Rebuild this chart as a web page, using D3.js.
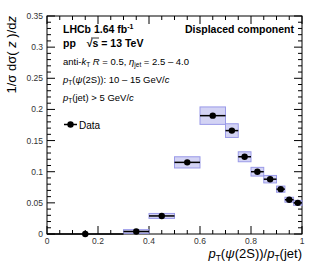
<!DOCTYPE html>
<html>
<head>
<meta charset="utf-8">
<script src="https://cdn.jsdelivr.net/npm/d3@7"></script>
<style>
  body { margin: 0; background: #fff; }
  text { font-family: "Liberation Sans", Arial, sans-serif; }
</style>
</head>
<body>
<div class="chart"></div>
<script>
// bins of pT(psi(2S))/pT(jet)
const binLo  = [0.0, 0.3, 0.4, 0.5, 0.6, 0.7,   0.75,  0.8,   0.85,  0.9,   0.933, 0.967];
const binHi  = [0.3, 0.4, 0.5, 0.6, 0.7, 0.75,  0.8,   0.85,  0.9,   0.933, 0.967, 1.0];
const values = [0.0, 0.004, 0.029, 0.115, 0.190, 0.166, 0.124, 0.100, 0.088, 0.072, 0.055, 0.050];
const sysErr = [0.0, 0.003, 0.004, 0.009, 0.014, 0.011, 0.008, 0.007, 0.006, 0.005, 0.004, 0.004];

const xMajor = [0, 0.2, 0.4, 0.6, 0.8, 1];
const yMajor = [0, 0.05, 0.1, 0.15, 0.2, 0.25, 0.3, 0.35];
const yLabels = ["0", "0.05", "0.1", "0.15", "0.2", "0.25", "0.3", "0.35"];

const W = 315, H = 276;
const margin = {top: 16, left: 47, right: 13, bottom: 42};

const svg = d3.select('.chart').append('svg')
    .attr("width", W)
    .attr("height", H);

const x = d3.scaleLinear().domain([0, 1]).range([margin.left, W - margin.right]);
const y = d3.scaleLinear().domain([0, 0.35]).range([H - margin.bottom, margin.top]);

const x0 = x(0), x1 = x(1), y0 = y(0), y1 = y(0.35);

// frame
svg.append("rect")
    .attr("x", x0).attr("y", y1)
    .attr("width", x1 - x0).attr("height", y0 - y1)
    .attr("fill", "none")
    .attr("stroke", "#000")
    .attr("stroke-width", 1);

// ticks (ROOT style, inward, mirrored)
const xMinor = d3.range(0, 1.0001, 0.05);
const yMinor = d3.range(0, 0.3501, 0.01);
const isMajor = (v, arr) => arr.some(m => Math.abs(m - v) < 1e-6);

const tickG = svg.append("g").attr("stroke", "#000").attr("stroke-width", 1);
xMinor.forEach(v => {
    const len = isMajor(v, xMajor) ? 8 : 4;
    tickG.append("line").attr("x1", x(v)).attr("x2", x(v)).attr("y1", y0).attr("y2", y0 - len);
    tickG.append("line").attr("x1", x(v)).attr("x2", x(v)).attr("y1", y1).attr("y2", y1 + len);
});
yMinor.forEach(v => {
    const len = isMajor(v, yMajor) ? 8 : 4;
    tickG.append("line").attr("x1", x0).attr("x2", x0 + len).attr("y1", y(v)).attr("y2", y(v));
    tickG.append("line").attr("x1", x1).attr("x2", x1 - len).attr("y1", y(v)).attr("y2", y(v));
});

// tick labels
svg.append("g").selectAll("text")
    .data(xMajor)
    .enter().append("text")
    .attr("x", d => x(d))
    .attr("y", y0 + 10)
    .attr("text-anchor", "middle")
    .attr("font-size", 8.5)
    .attr("fill", "#333")
    .text(d => d === 0 ? "0" : d === 1 ? "1" : d3.format(".1f")(d));

svg.append("g").selectAll("text")
    .data(yMajor)
    .enter().append("text")
    .attr("x", x0 - 4)
    .attr("y", d => y(d) + 3)
    .attr("text-anchor", "end")
    .attr("font-size", 8.5)
    .attr("fill", "#333")
    .text((d, i) => yLabels[i]);

// systematic boxes
const pts = values.map((v, i) => ({lo: binLo[i], hi: binHi[i], v: v, s: sysErr[i]}));

svg.append("g").selectAll("rect")
    .data(pts.filter(d => d.s > 0))
    .enter().append("rect")
    .attr("x", d => x(d.lo))
    .attr("width", d => x(d.hi) - x(d.lo))
    .attr("y", d => y(d.v + d.s))
    .attr("height", d => y(d.v - d.s) - y(d.v + d.s))
    .attr("fill", "rgba(110,110,220,0.3)")
    .attr("stroke", "#9a9ae8")
    .attr("stroke-width", 1);

// horizontal bars
svg.append("g").selectAll("line")
    .data(pts)
    .enter().append("line")
    .attr("x1", d => x(d.lo))
    .attr("x2", d => x(d.hi))
    .attr("y1", d => y(d.v))
    .attr("y2", d => y(d.v))
    .attr("stroke", "#000")
    .attr("stroke-width", 1.5);

// markers
svg.append("g").selectAll("circle")
    .data(pts)
    .enter().append("circle")
    .attr("cx", d => x((d.lo + d.hi) / 2))
    .attr("cy", d => y(d.v))
    .attr("r", 3.2)
    .attr("fill", "#000");

// annotations
const tx = 63;
svg.append("text").attr("x", tx).attr("y", 33)
    .attr("font-size", 10.5).attr("font-weight", "bold")
    .html('LHCb 1.64 fb<tspan dy="-4" font-size="7">-1</tspan>');

svg.append("text").attr("x", tx).attr("y", 47)
    .attr("font-size", 10.5).attr("font-weight", "bold")
    .html('pp <tspan dx="8">\u221As</tspan> = 13 TeV');
svg.append("line").attr("x1", 91).attr("x2", 99).attr("y1", 38).attr("y2", 38)
    .attr("stroke", "#000").attr("stroke-width", 0.8);

svg.append("text").attr("x", 294).attr("y", 33)
    .attr("font-size", 10.5).attr("font-weight", "bold")
    .attr("text-anchor", "end")
    .text("Displaced component");

svg.append("text").attr("x", tx).attr("y", 65)
    .attr("font-size", 9.5)
    .html('anti-<tspan font-style="italic">k</tspan><tspan dy="2" font-size="6.5">T</tspan>' +
          '<tspan dy="-2"> </tspan><tspan font-style="italic">R</tspan> = 0.5, ' +
          '<tspan font-style="italic">\u03B7</tspan><tspan dy="2" font-size="6.5">jet</tspan>' +
          '<tspan dy="-2"> = 2.5 \u2013 4.0</tspan>');

svg.append("text").attr("x", tx).attr("y", 83)
    .attr("font-size", 9.5)
    .html('<tspan font-style="italic">p</tspan><tspan dy="2" font-size="6.5">T</tspan>' +
          '<tspan dy="-2">(</tspan><tspan font-style="italic">\u03C8</tspan>(2S)): 10 \u2013 15 GeV/<tspan font-style="italic">c</tspan>');

svg.append("text").attr("x", tx).attr("y", 101)
    .attr("font-size", 9.5)
    .html('<tspan font-style="italic">p</tspan><tspan dy="2" font-size="6.5">T</tspan>' +
          '<tspan dy="-2">(jet) &gt; 5 GeV/</tspan><tspan font-style="italic">c</tspan>');

// legend
svg.append("line").attr("x1", 64).attr("x2", 77).attr("y1", 124.5).attr("y2", 124.5)
    .attr("stroke", "#000").attr("stroke-width", 1.5);
svg.append("circle").attr("cx", 70.5).attr("cy", 124.5).attr("r", 3.2).attr("fill", "#000");
svg.append("text").attr("x", 79).attr("y", 128.5)
    .attr("font-size", 10).text("Data");

// axis titles
svg.append("text")
    .attr("x", x1).attr("y", 258)
    .attr("text-anchor", "end")
    .attr("font-size", 13)
    .html('<tspan font-style="italic">p</tspan><tspan dy="3" font-size="8.5">T</tspan>' +
          '<tspan dy="-3">(</tspan><tspan font-style="italic">\u03C8</tspan>(2S))/' +
          '<tspan font-style="italic">p</tspan><tspan dy="3" font-size="8.5">T</tspan><tspan dy="-3">(jet)</tspan>');

svg.append("text")
    .attr("transform", "translate(16,16) rotate(-90)")
    .attr("text-anchor", "end")
    .attr("font-size", 13)
    .html('1/\u03C3 d\u03C3( <tspan font-style="italic">z</tspan> )/d<tspan font-style="italic">z</tspan>');
</script>
</body>
</html>
